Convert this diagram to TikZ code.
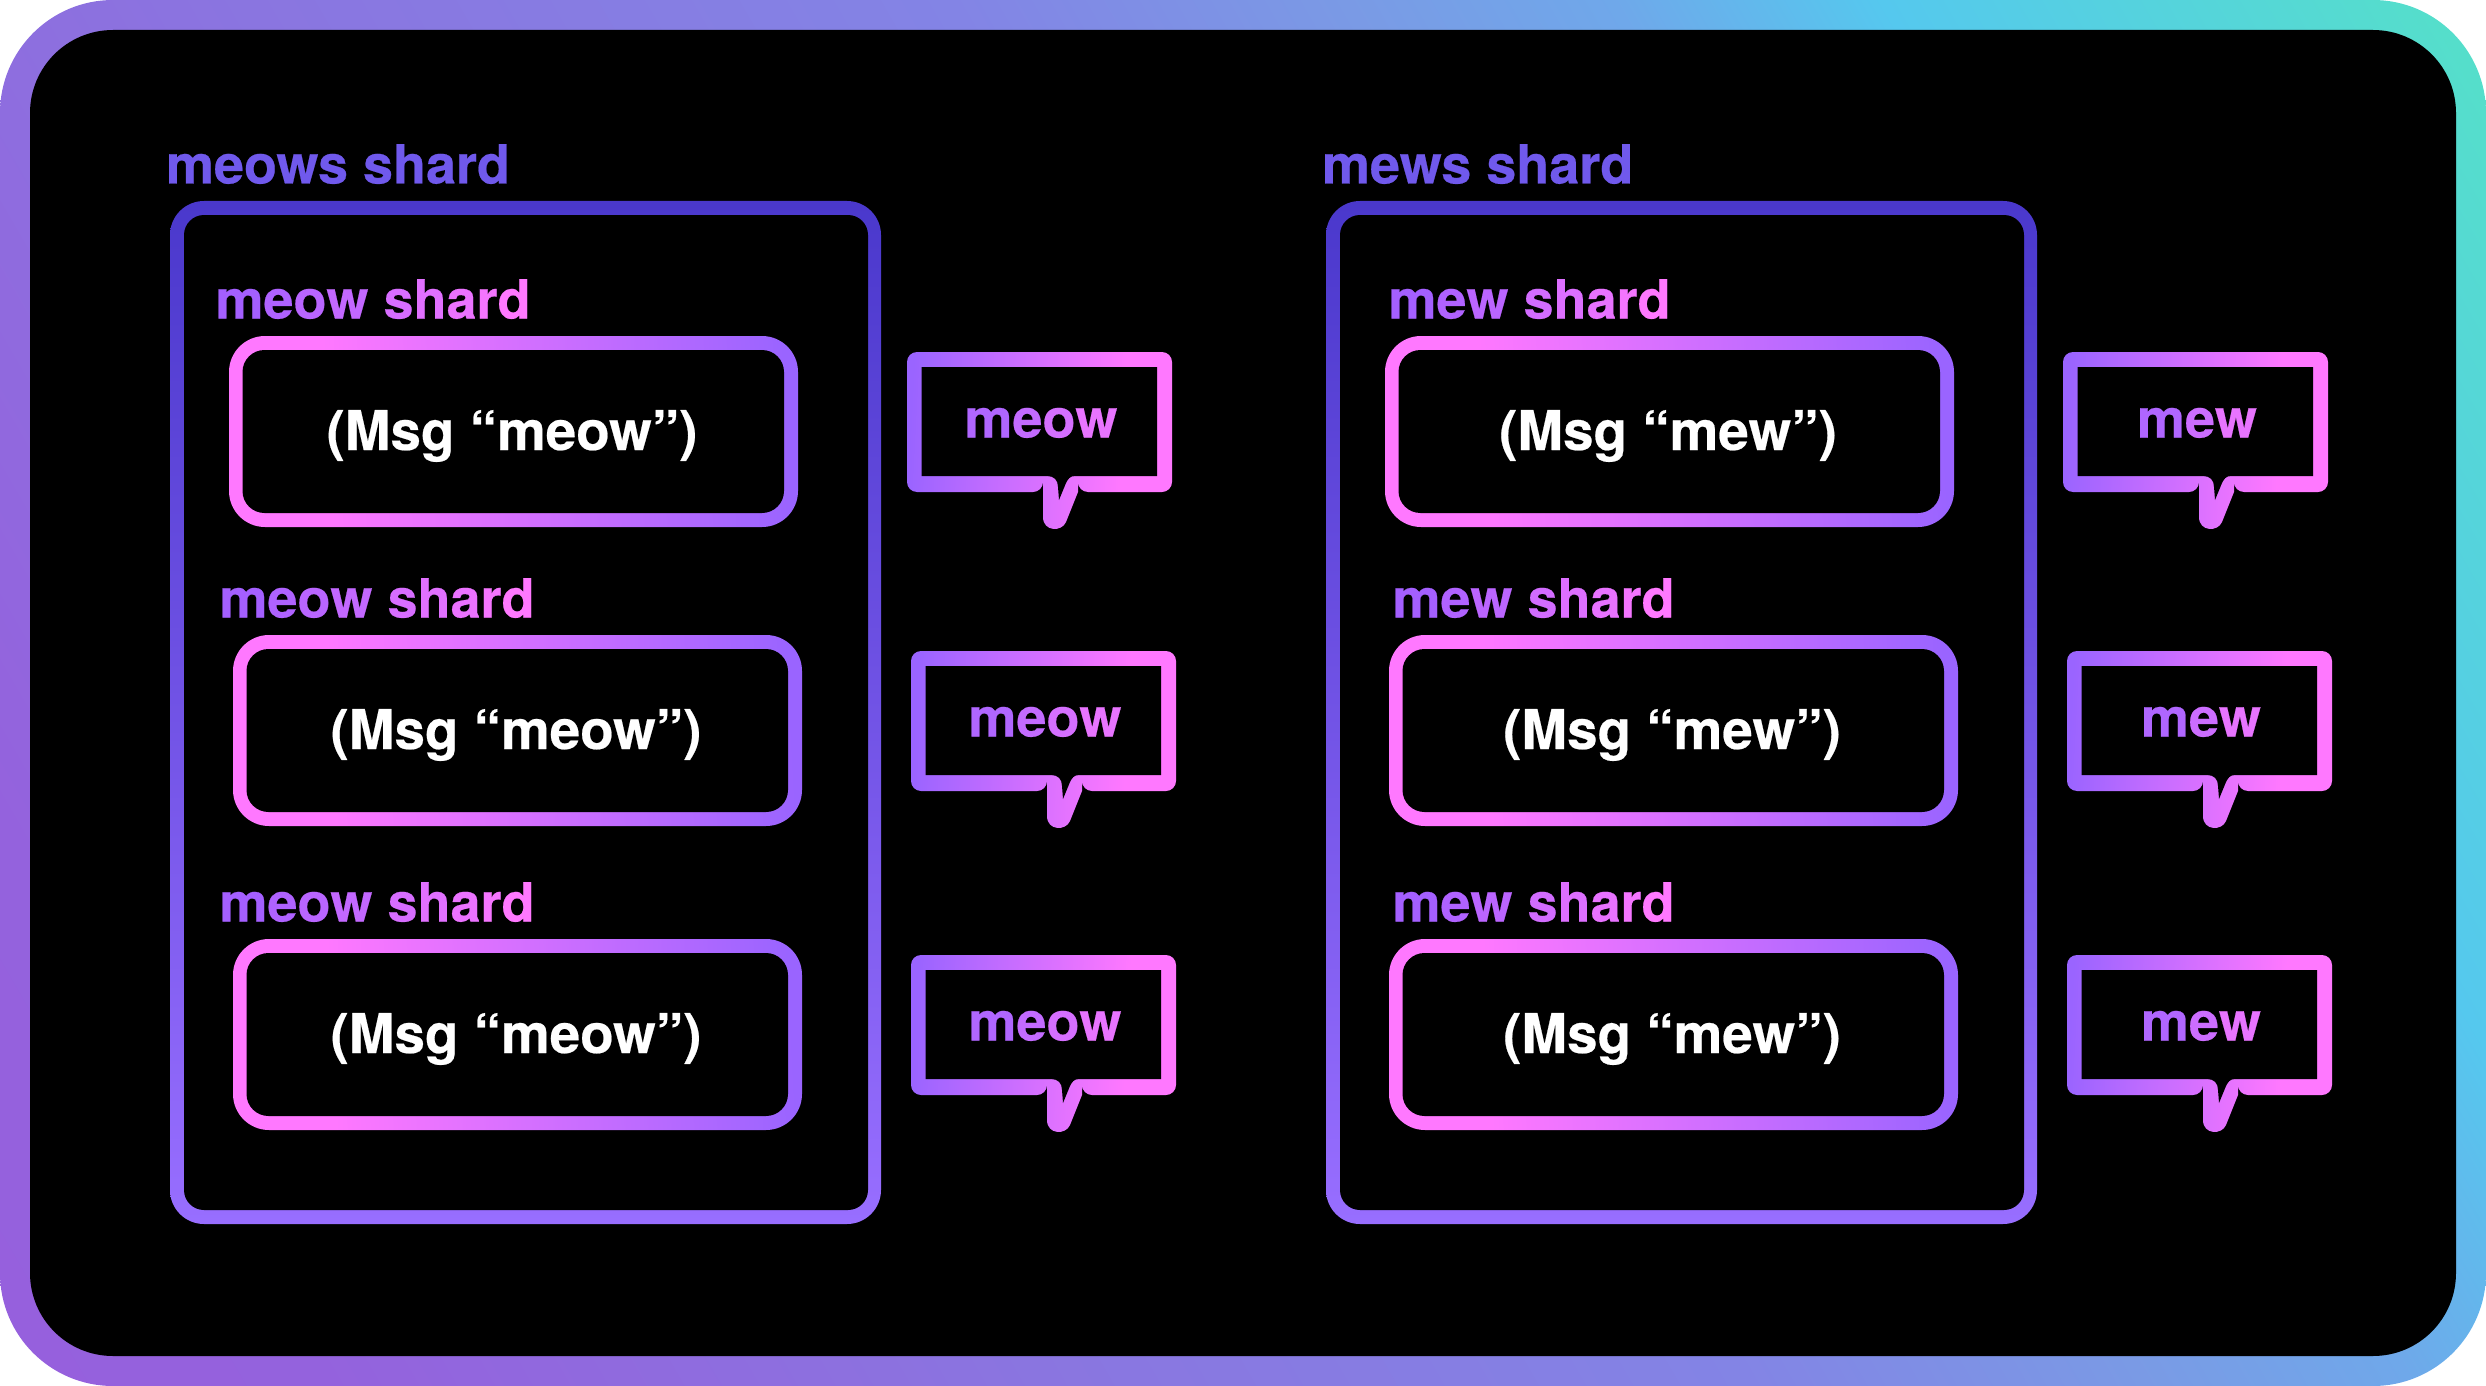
\documentclass[tikz,border=0pt]{standalone}
\usepackage{fontspec}
\setmainfont{TeX Gyre Heros}[BoldFeatures={FakeBold=0.4}]
\usetikzlibrary{calc}
\definecolor{pinkc}{HTML}{FF78FF}
\definecolor{purc}{HTML}{9A64FF}
\definecolor{labpur}{HTML}{A45FFF}
\definecolor{bubtextl}{HTML}{B066FF}
\definecolor{bubtextr}{HTML}{E874FF}
\definecolor{bigtop}{HTML}{4A38CC}
\definecolor{bigbot}{HTML}{986EFF}
\definecolor{biglabel}{HTML}{7059EC}
\definecolor{fa}{HTML}{9660DD}
\definecolor{fb}{HTML}{9462DD}
\definecolor{fc}{HTML}{8A75E0}
\definecolor{fd}{HTML}{8384E5}
\definecolor{fe}{HTML}{7A9AE5}
\definecolor{ff}{HTML}{6FA8EA}
\definecolor{fg}{HTML}{55C8EE}
\definecolor{fh}{HTML}{55E0C8}
\pgfdeclarehorizontalshading{frameg}{100bp}{color(0bp)=(fa); color(21.4bp)=(fa); color(26.9bp)=(fb); color(39.5bp)=(fc); color(51.9bp)=(fd); color(58.8bp)=(fe); color(63.5bp)=(ff); color(68.2bp)=(fg); color(78.6bp)=(fh); color(100bp)=(fh)}
\pgfdeclarehorizontalshading{boxg}{100bp}{color(0bp)=(pinkc); color(33bp)=(pinkc); color(75bp)=(purc); color(100bp)=(purc)}
\pgfdeclarehorizontalshading{bubg}{100bp}{color(0bp)=(purc); color(25bp)=(purc); color(66bp)=(pinkc); color(100bp)=(pinkc)}
\pgfdeclareverticalshading{bigg}{100bp}{color(0bp)=(bigbot); color(25bp)=(bigbot); color(75bp)=(bigtop); color(100bp)=(bigtop)}
\makeatletter
\newcount\gt@i
\newcommand{\gradtext}[4]{%
  \gt@i=0
  \@tfor\gt@c:=#4\do{%
    \pgfmathtruncatemacro\gt@p{100-100*\gt@i/(#1-1)}%
    \textcolor{#2!\gt@p!#3}{\gt@c}%
    \global\advance\gt@i by 1 }}
\makeatother
\tikzset{
  txt/.style={inner sep=0pt,outer sep=0pt,font=\fontsize{27}{27}\selectfont\bfseries},
  msgtxt/.style={inner sep=0pt,outer sep=0pt,font=\fontsize{27.4}{27.4}\selectfont\bfseries},
  boxshade/.style={shading=boxg,shading angle=3,rounded corners=18pt},
  boxhole/.style={fill=black,rounded corners=11pt},
  bigshade/.style={shading=bigg,rounded corners=17pt},
  bighole/.style={fill=black,rounded corners=10pt},
  bubshade/.style={shading=bubg,shading angle=-3}
}
% #1 id, #2 group x shift, #3 row x shift, #4 row y shift, #5 word, #6 letter count, #7 label x
\newcommand{\shardrow}[7]{%
  \begin{scope}[shift={(#2+#3,#4)}]
    \shade[boxshade] (229,336) rectangle (798,527);
    \fill[boxhole] (242.5,350) rectangle (784,513);
    \node[msgtxt,text=white,anchor=base] (msg-#1) at (512,450) {(Msg “#5”)};
    \begin{scope}[shift={(907,352)}]
      \shade[bubshade] [rounded corners=5pt] (0,0) -- (265,0) -- (265,140) -- (171,140) [sharp corners] -- (171,140) -- (159,170) .. controls (155,180) and (136,180) .. (136,165) -- (136,140) [rounded corners=5pt] -- (136,140) -- (0,140) -- cycle;
      \fill[black] (14.5,15) -- (250,15) -- (250,124) -- (168,124) .. controls (163,124) and (161,127) .. (159,131) -- (152,148) -- (151,135) .. controls (151,128) and (147,124) .. (140,124) -- (14.5,124) -- cycle;
      \node[txt,anchor=base] (bub-#1) at (134,85.5) {\gradtext{#6}{bubtextl}{bubtextr}{#5}};
    \end{scope}
  \end{scope}
  \node[txt,anchor=base west] (lab-#1) at (#7+#3,318.5+#4) {\gradtext{\numexpr#6+6\relax}{labpur}{pinkc}{#5~shard}};
}
\newcommand{\bigbox}[3]{%
  \begin{scope}[shift={(#1,0)}]
    \shade[bigshade] (170,201) rectangle (881,1224);
    \fill[bighole] (184,215) rectangle (868,1210);
  \end{scope}
  \node[txt,text=biglabel,anchor=base west] (big-#2) at (#1+166,183.5) {#3};
}
\begin{document}
\begin{tikzpicture}[x=0.5pt,y=-0.5pt]
  \useasboundingbox (0,0) rectangle (2486,1386);
  \begin{scope}
    \clip[rounded corners=56.5pt] (0,0) rectangle (2486,1386);
    \shade[shading=frameg,shading angle=30] (0,-550) rectangle (2486,1936);
  \end{scope}
  \fill[black,rounded corners=41.5pt] (30,30) rectangle (2456,1356);
  \bigbox{0}{meows}{meows shard}
  \bigbox{1156}{mews}{mews shard}
  \shardrow{meow1}{0}{0}{0}{meow}{4}{215.5}
  \shardrow{meow2}{0}{4}{299}{meow}{4}{215.5}
  \shardrow{meow3}{0}{4}{603}{meow}{4}{215.5}
  \shardrow{mew1}{1156}{0}{0}{mew}{3}{1388.5}
  \shardrow{mew2}{1156}{4}{299}{mew}{3}{1388.5}
  \shardrow{mew3}{1156}{4}{603}{mew}{3}{1388.5}
\end{tikzpicture}
\end{document}
